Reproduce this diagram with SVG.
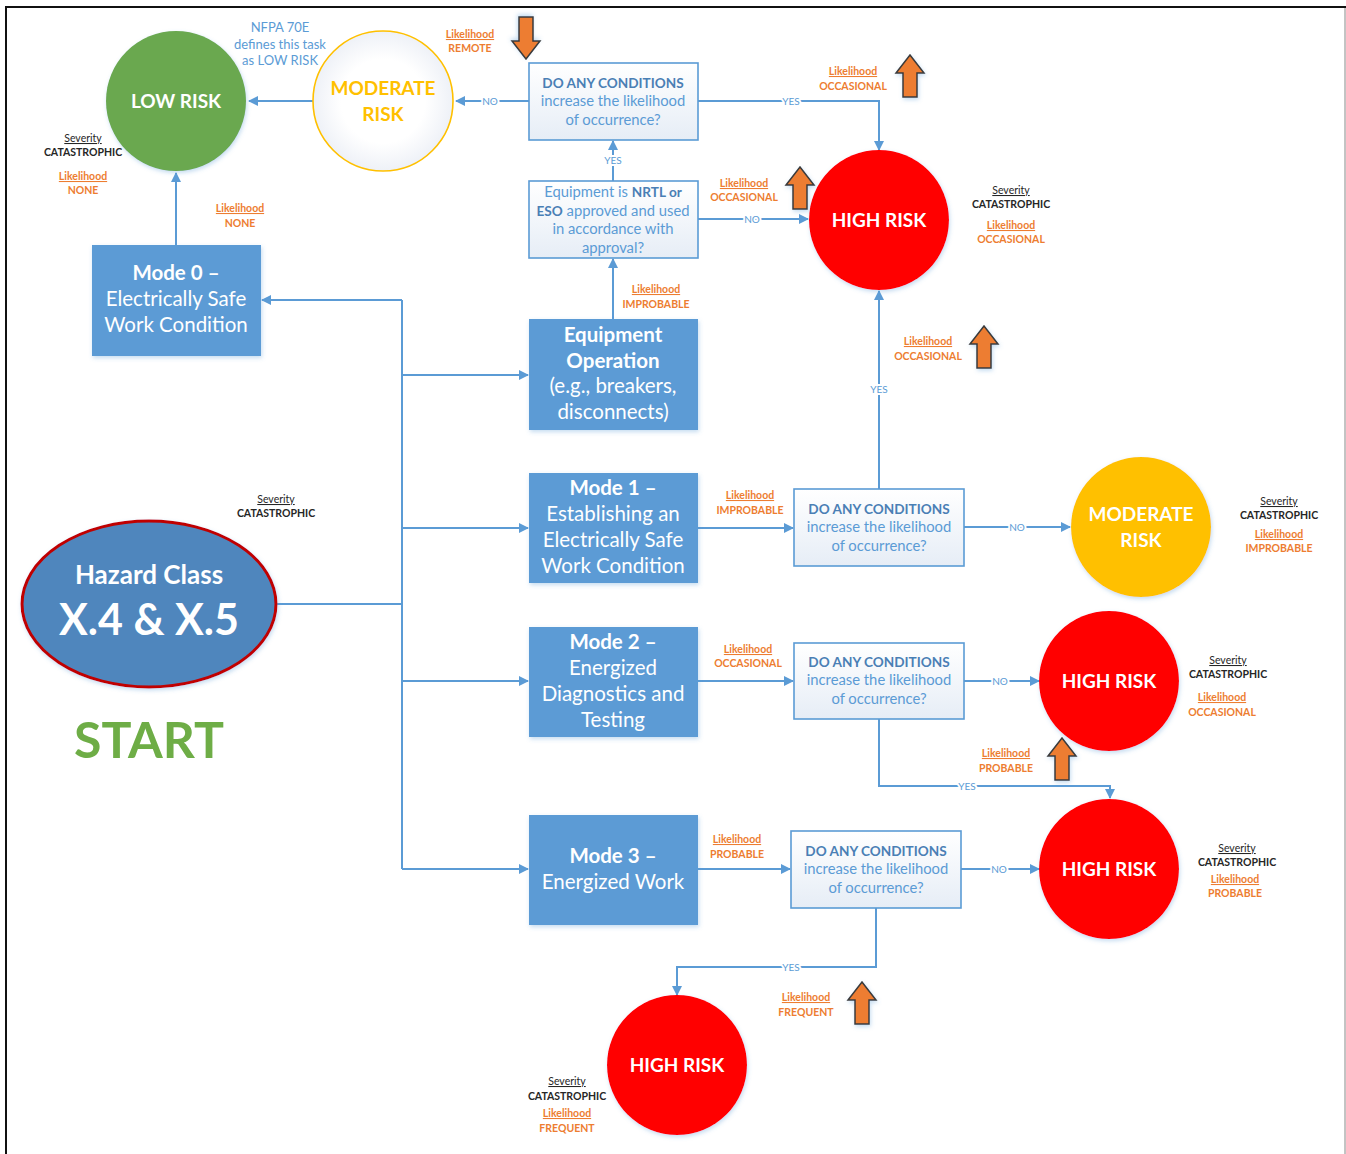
<svg xmlns="http://www.w3.org/2000/svg" width="1346" height="1154" viewBox="0 0 1346 1154">
  <style>
    .f { font-family: Lato, "Open Sans", "Liberation Sans", sans-serif; }
    .conn { fill: none; stroke: #5b9bd5; stroke-width: 2; }
    .arr { marker-end: url(#tip); }
    .lbl { font-family: Lato, "Liberation Sans", sans-serif; font-size: 10px; fill: #5b9bd5; text-anchor: middle; stroke: #fff; stroke-width: 4; paint-order: stroke; }
    .mode { fill: #5b9bd5; filter: url(#shadow); }
    .modet { font-family: Lato, "Liberation Sans", sans-serif; font-size: 20.5px; fill: #fff; text-anchor: middle; }
    .dec { fill: url(#decfill); stroke: #5b9bd5; stroke-width: 1.6; }
    .dect { font-family: Lato, "Liberation Sans", sans-serif; font-size: 14.8px; fill: #5b9bd5; text-anchor: middle; }
    .deth { font-weight: bold; fill: #4a7fb5; font-size: 13.6px; }
    .risk { font-family: Lato, "Liberation Sans", sans-serif; font-size: 19px; font-weight: bold; fill: #fff; text-anchor: middle; }
    .lk { font-family: Lato, "Liberation Sans", sans-serif; font-size: 10.5px; font-weight: bold; fill: #ed7d31; text-anchor: middle; }
    .lku { text-decoration: underline; }
    .sv { font-family: Lato, "Liberation Sans", sans-serif; font-size: 10.5px; fill: #262626; text-anchor: middle; }
    .svb { font-weight: bold; }
    .bigarrow { fill: #ed7d31; stroke: #3a3a3a; stroke-width: 1.5; stroke-linejoin: miter; filter: url(#shadow); }
  </style>
  <defs>
    <marker id="tip" markerWidth="10" markerHeight="10" refX="9" refY="5" orient="auto" markerUnits="userSpaceOnUse">
      <path d="M0,0 L10,5 L0,10 Z" fill="#5b9bd5"/>
    </marker>
    <linearGradient id="decfill" x1="0" y1="0" x2="0" y2="1">
      <stop offset="0" stop-color="#ffffff"/>
      <stop offset="1" stop-color="#e6edf6"/>
    </linearGradient>
    <radialGradient id="modfill" cx="0.5" cy="0.5" r="0.5">
      <stop offset="0.6" stop-color="#ffffff"/>
      <stop offset="1" stop-color="#eef1f7"/>
    </radialGradient>
    <filter id="shadow" x="-20%" y="-20%" width="140%" height="140%">
      <feDropShadow dx="1" dy="2" stdDeviation="2" flood-color="#5b9bd5" flood-opacity="0.35"/>
    </filter>
    <path id="up" d="M0,0 L14,18 L7,18 L7,42 L-7,42 L-7,18 L-14,18 Z"/>
  </defs>

  <rect width="1346" height="1154" fill="#ffffff"/>
  <!-- page frame -->
  <path d="M6,1154 V7 H1346" fill="none" stroke="#111" stroke-width="2"/>
  <path d="M1345,8 V1154" fill="none" stroke="#888" stroke-width="1"/>

  <!-- connectors -->
  <g id="connectors">
    <path class="conn arr" d="M313,101 H249"/>
    <path class="conn arr" d="M176,245 V173"/>
    <path class="conn arr" d="M529,101 H456"/>
    <path class="conn arr" d="M698,101 H879 V150"/>
    <path class="conn arr" d="M613,181 V141"/>
    <path class="conn arr" d="M698,219 H808"/>
    <path class="conn arr" d="M613,319 V259"/>
    <path class="conn" d="M277,604 H402 M402,300 V869"/>
    <path class="conn arr" d="M402,300 H262"/>
    <path class="conn arr" d="M402,375 H528"/>
    <path class="conn arr" d="M402,528 H528"/>
    <path class="conn arr" d="M402,681 H528"/>
    <path class="conn arr" d="M402,869 H528"/>
    <path class="conn arr" d="M698,528 H793"/>
    <path class="conn arr" d="M879,489 V291"/>
    <path class="conn arr" d="M964,527 H1070"/>
    <path class="conn arr" d="M698,681 H793"/>
    <path class="conn arr" d="M964,681 H1039"/>
    <path class="conn arr" d="M879,719 V786 H1110 V798"/>
    <path class="conn arr" d="M698,869 H790"/>
    <path class="conn arr" d="M961,869 H1039"/>
    <path class="conn arr" d="M876,908 V967 H677 V995"/>
    <text class="lbl" x="490" y="105">NO</text>
    <text class="lbl" x="791" y="105">YES</text>
    <text class="lbl" x="613" y="164">YES</text>
    <text class="lbl" x="752" y="223">NO</text>
    <text class="lbl" x="879" y="393">YES</text>
    <text class="lbl" x="1017" y="531">NO</text>
    <text class="lbl" x="1000" y="685">NO</text>
    <text class="lbl" x="967" y="790">YES</text>
    <text class="lbl" x="999" y="873">NO</text>
    <text class="lbl" x="791" y="971">YES</text>
  </g>

  <!-- likelihood-increase markers -->
  <g id="increase-arrows">
    <use href="#up" class="bigarrow" transform="translate(526,59) rotate(180)"/>
    <use href="#up" class="bigarrow" transform="translate(910,55)"/>
    <use href="#up" class="bigarrow" transform="translate(800,167)"/>
    <use href="#up" class="bigarrow" transform="translate(984,326)"/>
    <use href="#up" class="bigarrow" transform="translate(1062,738)"/>
    <use href="#up" class="bigarrow" transform="translate(862,982)"/>
  </g>

  <!-- start node -->
  <g id="hazard-class">
    <ellipse cx="149" cy="604" rx="127" ry="83" fill="#4f86bd" stroke="#c00000" stroke-width="3" filter="url(#shadow)"/>
    <text class="f" x="149" y="584" font-size="26" font-weight="bold" fill="#fff" text-anchor="middle">Hazard Class</text>
    <text class="f" x="149" y="635" font-size="43" font-weight="bold" fill="#fff" text-anchor="middle">X.4 &amp; X.5</text>
    <text class="f" x="149" y="758" font-size="50" font-weight="bold" fill="#6ead46" text-anchor="middle">START</text>
    <text class="sv lku" x="276" y="503">Severity</text>
    <text class="sv svb" x="276" y="517">CATASTROPHIC</text>
  </g>

  <g id="low-risk">
    <circle cx="176" cy="101" r="70" fill="#6aa84f" filter="url(#shadow)"/>
    <text class="risk" x="176" y="108">LOW RISK</text>
    <text class="sv lku" x="83" y="142">Severity</text>
    <text class="sv svb" x="83" y="156">CATASTROPHIC</text>
    <text class="lk lku" x="83" y="180">Likelihood</text>
    <text class="lk" x="83" y="194">NONE</text>
    <text class="f" x="280" y="32" font-size="13" fill="#5b9bd5" text-anchor="middle">NFPA 70E</text>
    <text class="f" x="280" y="49" font-size="13" fill="#5b9bd5" text-anchor="middle">defines this task</text>
    <text class="f" x="280" y="65" font-size="13" fill="#5b9bd5" text-anchor="middle">as LOW RISK</text>
  </g>

  <g id="moderate-risk-top">
    <circle cx="383" cy="101" r="70" fill="url(#modfill)" stroke="#ffc000" stroke-width="1.6"/>
    <text class="risk" x="383" y="95" style="fill:#ffc000">MODERATE</text>
    <text class="risk" x="383" y="121" style="fill:#ffc000">RISK</text>
    <text class="lk lku" x="470" y="38">Likelihood</text>
    <text class="lk" x="470" y="52">REMOTE</text>
  </g>

  <g id="mode-0">
    <rect class="mode" x="92" y="245" width="169" height="111"/>
    <text class="modet" x="176" y="280" font-weight="bold">Mode 0 –</text>
    <text class="modet" x="176" y="306">Electrically Safe</text>
    <text class="modet" x="176" y="332">Work Condition</text>
    <text class="lk lku" x="240" y="212">Likelihood</text>
    <text class="lk" x="240" y="227">NONE</text>
  </g>

  <g id="decision-top">
    <rect class="dec" x="529" y="63" width="169" height="77"/>
    <text class="dect deth" x="613" y="88">DO ANY CONDITIONS</text>
    <text class="dect" x="613" y="106">increase the likelihood</text>
    <text class="dect" x="613" y="125">of occurrence?</text>
    <text class="lk lku" x="853" y="75">Likelihood</text>
    <text class="lk" x="853" y="90">OCCASIONAL</text>
  </g>

  <g id="approval-check">
    <rect class="dec" x="529" y="181" width="169" height="77"/>
    <text class="dect" x="613" y="197">Equipment is <tspan class="deth" font-size="14">NRTL or</tspan></text>
    <text class="dect" x="613" y="216"><tspan class="deth" font-size="14">ESO</tspan> approved and used</text>
    <text class="dect" x="613" y="234">in accordance with</text>
    <text class="dect" x="613" y="253">approval?</text>
    <text class="lk lku" x="744" y="187">Likelihood</text>
    <text class="lk" x="744" y="201">OCCASIONAL</text>
    <text class="lk lku" x="656" y="293">Likelihood</text>
    <text class="lk" x="656" y="308">IMPROBABLE</text>
  </g>

  <g id="high-risk-1">
    <circle cx="879" cy="220" r="70" fill="#ff0000" filter="url(#shadow)"/>
    <text class="risk" x="879" y="227">HIGH RISK</text>
    <text class="sv lku" x="1011" y="194">Severity</text>
    <text class="sv svb" x="1011" y="208">CATASTROPHIC</text>
    <text class="lk lku" x="1011" y="229">Likelihood</text>
    <text class="lk" x="1011" y="243">OCCASIONAL</text>
  </g>

  <g id="equipment-operation">
    <rect class="mode" x="529" y="319" width="169" height="111"/>
    <text class="modet" x="613" y="342" font-weight="bold">Equipment</text>
    <text class="modet" x="613" y="368" font-weight="bold">Operation</text>
    <text class="modet" x="613" y="393">(e.g., breakers,</text>
    <text class="modet" x="613" y="419">disconnects)</text>
  </g>

  <g id="mode-1">
    <rect class="mode" x="529" y="473" width="169" height="110"/>
    <text class="modet" x="613" y="495" font-weight="bold">Mode 1 –</text>
    <text class="modet" x="613" y="521">Establishing an</text>
    <text class="modet" x="613" y="547">Electrically Safe</text>
    <text class="modet" x="613" y="573">Work Condition</text>
    <text class="lk lku" x="750" y="499">Likelihood</text>
    <text class="lk" x="750" y="514">IMPROBABLE</text>
  </g>

  <g id="decision-mode-1">
    <rect class="dec" x="794" y="489" width="170" height="77"/>
    <text class="dect deth" x="879" y="514">DO ANY CONDITIONS</text>
    <text class="dect" x="879" y="532">increase the likelihood</text>
    <text class="dect" x="879" y="551">of occurrence?</text>
    <text class="lk lku" x="928" y="345">Likelihood</text>
    <text class="lk" x="928" y="360">OCCASIONAL</text>
  </g>

  <g id="moderate-risk-mode-1">
    <circle cx="1141" cy="527" r="70" fill="#ffc000" filter="url(#shadow)"/>
    <text class="risk" x="1141" y="521">MODERATE</text>
    <text class="risk" x="1141" y="547">RISK</text>
    <text class="sv lku" x="1279" y="505">Severity</text>
    <text class="sv svb" x="1279" y="519">CATASTROPHIC</text>
    <text class="lk lku" x="1279" y="538">Likelihood</text>
    <text class="lk" x="1279" y="552">IMPROBABLE</text>
  </g>

  <g id="mode-2">
    <rect class="mode" x="529" y="627" width="169" height="110"/>
    <text class="modet" x="613" y="649" font-weight="bold">Mode 2 –</text>
    <text class="modet" x="613" y="675">Energized</text>
    <text class="modet" x="613" y="701">Diagnostics and</text>
    <text class="modet" x="613" y="727">Testing</text>
    <text class="lk lku" x="748" y="653">Likelihood</text>
    <text class="lk" x="748" y="667">OCCASIONAL</text>
  </g>

  <g id="decision-mode-2">
    <rect class="dec" x="794" y="643" width="170" height="76"/>
    <text class="dect deth" x="879" y="667">DO ANY CONDITIONS</text>
    <text class="dect" x="879" y="685">increase the likelihood</text>
    <text class="dect" x="879" y="704">of occurrence?</text>
    <text class="lk lku" x="1006" y="757">Likelihood</text>
    <text class="lk" x="1006" y="772">PROBABLE</text>
  </g>

  <g id="high-risk-mode-2">
    <circle cx="1109" cy="681" r="70" fill="#ff0000" filter="url(#shadow)"/>
    <text class="risk" x="1109" y="688">HIGH RISK</text>
    <text class="sv lku" x="1228" y="664">Severity</text>
    <text class="sv svb" x="1228" y="678">CATASTROPHIC</text>
    <text class="lk lku" x="1222" y="701">Likelihood</text>
    <text class="lk" x="1222" y="716">OCCASIONAL</text>
  </g>

  <g id="mode-3">
    <rect class="mode" x="529" y="815" width="169" height="110"/>
    <text class="modet" x="613" y="863" font-weight="bold">Mode 3 –</text>
    <text class="modet" x="613" y="889">Energized Work</text>
    <text class="lk lku" x="737" y="843">Likelihood</text>
    <text class="lk" x="737" y="858">PROBABLE</text>
  </g>

  <g id="decision-mode-3">
    <rect class="dec" x="791" y="831" width="170" height="77"/>
    <text class="dect deth" x="876" y="856">DO ANY CONDITIONS</text>
    <text class="dect" x="876" y="874">increase the likelihood</text>
    <text class="dect" x="876" y="893">of occurrence?</text>
    <text class="lk lku" x="806" y="1001">Likelihood</text>
    <text class="lk" x="806" y="1016">FREQUENT</text>
  </g>

  <g id="high-risk-mode-3">
    <circle cx="1109" cy="869" r="70" fill="#ff0000" filter="url(#shadow)"/>
    <text class="risk" x="1109" y="876">HIGH RISK</text>
    <text class="sv lku" x="1237" y="852">Severity</text>
    <text class="sv svb" x="1237" y="866">CATASTROPHIC</text>
    <text class="lk lku" x="1235" y="883">Likelihood</text>
    <text class="lk" x="1235" y="897">PROBABLE</text>
  </g>

  <g id="high-risk-frequent">
    <circle cx="677" cy="1065" r="70" fill="#ff0000" filter="url(#shadow)"/>
    <text class="risk" x="677" y="1072">HIGH RISK</text>
    <text class="sv lku" x="567" y="1085">Severity</text>
    <text class="sv svb" x="567" y="1100">CATASTROPHIC</text>
    <text class="lk lku" x="567" y="1117">Likelihood</text>
    <text class="lk" x="567" y="1132">FREQUENT</text>
  </g>
</svg>
